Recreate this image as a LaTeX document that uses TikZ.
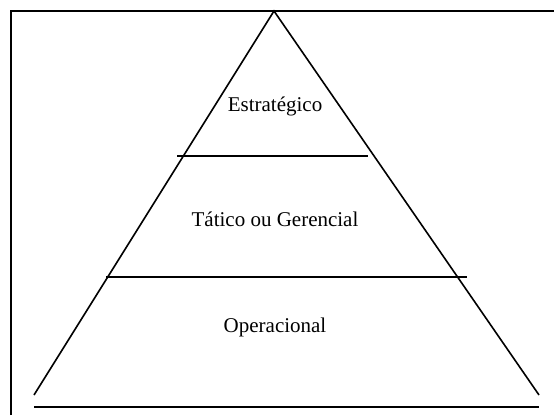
\documentclass[tikz,border=0pt]{standalone}
\usepackage{fontspec}
\setmainfont{Liberation Serif}
\begin{document}
\begin{tikzpicture}[x=1pt,y=-1pt,
  edge/.style={line width=1.6pt,line cap=butt},
  label/.style={font=\fontsize{21}{24}\selectfont,inner sep=0pt}]
\useasboundingbox (0,0) rectangle (554,415);
% outer frame (left and top edges visible)
\draw[edge,line width=2.2pt] (11,415) -- (11,11) -- (554,11);
% pyramid
\coordinate (apex) at (274,11);
\coordinate (bl) at (34,395);
\coordinate (br) at (539,395);
\draw[edge] (bl) -- (apex) -- (br);
% level dividers
\coordinate (u1) at (177,156);
\coordinate (u2) at (368,156);
\coordinate (l1) at (106,277);
\coordinate (l2) at (467,277);
\draw[edge] (u1) -- (u2);
\draw[edge] (l1) -- (l2);
% base line
\coordinate (b1) at (34,407);
\coordinate (b2) at (539,407);
\draw[edge,line width=2.2pt] (b1) -- (b2);
% level labels
\node[label] (est) at (275,106) {Estratégico};
\node[label] (tat) at (275,219) {Tático ou Gerencial};
\node[label] (ope) at (275,327) {Operacional};
\end{tikzpicture}
\end{document}
